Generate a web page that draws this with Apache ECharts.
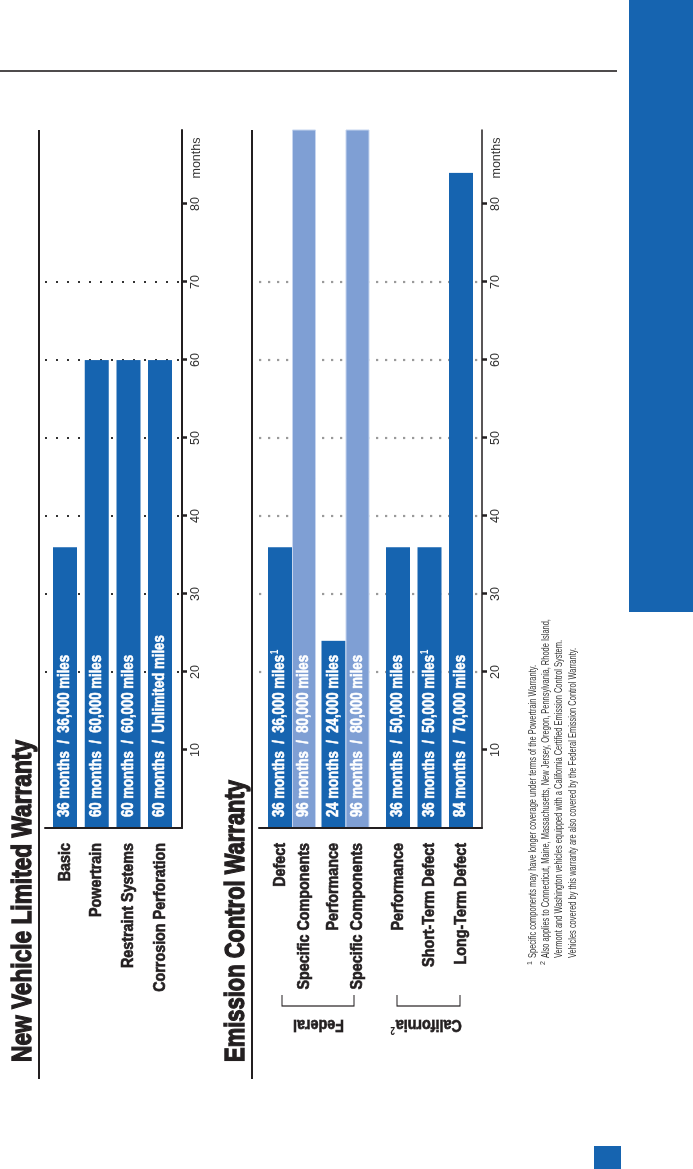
<!DOCTYPE html>
<html><head><meta charset="utf-8">
<script src="https://cdn.jsdelivr.net/npm/echarts@6/dist/echarts.min.js"></script>
<style>
html,body{margin:0;padding:0;background:#fff;overflow:hidden;width:693px;height:1169px}
#chart{position:absolute;left:0;top:0;width:1169px;height:693px;transform-origin:0 0;transform:translateY(1169px) rotate(-90deg);}
</style></head><body><div id="chart"></div>
<script>
// ---------- data ----------
const nvCategories = ['Basic', 'Powertrain', 'Restraint Systems', 'Corrosion Perforation'];
const nvMonths = [36, 60, 60, 60];
const nvLabels = ['36 months / 36,000 miles', '60 months / 60,000 miles', '60 months / 60,000 miles', '60 months / Unlimited miles'];
const nvNotes = ['', '', '', ''];

const fedCategories = ['Defect', 'Specific Components', 'Performance', 'Specific Components'];
const fedMonths = [36, 96, 24, 96];
const fedLabels = ['36 months / 36,000 miles', '96 months / 80,000 miles', '24 months / 24,000 miles', '96 months / 80,000 miles'];
const fedNotes = ['1', '', '', ''];

const calCategories = ['Performance', 'Short-Term Defect', 'Long-Term Defect'];
const calMonths = [36, 36, 84];
const calLabels = ['36 months / 50,000 miles', '36 months / 50,000 miles', '84 months / 70,000 miles'];
const calNotes = ['', '1', ''];

const tickValues = [10, 20, 30, 40, 50, 60, 70, 80];
const axisName = 'months';

const footnotes = [
  ['1', 'Specific components may have longer coverage under terms of the Powertrain Warranty.'],
  ['2', 'Also applies to Connecticut, Maine, Massachusetts, New Jersey, Oregon, Pennsylvania, Rhode Island,'],
  ['', 'Vermont and Washington vehicles equipped with a California Certified Emission Control System.'],
  ['', 'Vehicles covered by this warranty are also covered by the Federal Emission Control Warranty.']
];

// ---------- style ----------
const BLUE = '#1664b0', LIGHT = '#7f9fd4', INK = '#231f20';
const REG = '"Liberation Sans",Arial,Helvetica,sans-serif';
const MAX = 89.5;
const bold = sz => 'bold ' + sz + 'px ' + REG;

function measure(text, font) {
  const c = document.createElement('canvas').getContext('2d');
  c.font = font;
  return c.measureText(text).width;
}
function spaced(s) { return s.replace(' / ', '  /  '); }

const chart = echarts.init(document.getElementById('chart'), null, {renderer: 'canvas'});

function visibleValueAxis(gridIndex, split, lineW) {
  return {
    type: 'value', gridIndex, min: 0, max: MAX, interval: 10, position: 'bottom',
    name: axisName, nameLocation: 'end', nameGap: -28,
    nameTextStyle: {fontFamily: REG, fontSize: 12.5, color: '#333', align: 'center', verticalAlign: 'top', padding: [8, 0, 0, 0]},
    axisLine: {show: true, onZero: false, lineStyle: {color: INK, width: lineW}},
    axisTick: {show: true, length: 5, customValues: tickValues, lineStyle: {color: INK, width: 2.5}},
    axisLabel: {show: true, margin: 7, fontFamily: REG, fontSize: 12.5, color: '#333', customValues: tickValues},
    splitLine: {show: true, showMinLine: false, showMaxLine: false, lineStyle: split},
    z: 0
  };
}
function hiddenValueAxis(gridIndex) {
  return {type: 'value', gridIndex, min: 0, max: MAX, show: false};
}
function baseLineAxis(gridIndex) {
  return {
    type: 'category', gridIndex, data: [''],
    axisLine: {show: true, lineStyle: {color: INK, width: 2}},
    axisTick: {show: false}, axisLabel: {show: false}, splitLine: {show: false}, z: 5
  };
}
function catAxis(gridIndex, data) {
  return {
    type: 'category', gridIndex, data, inverse: true,
    axisLine: {show: false}, axisTick: {show: false}, splitLine: {show: false}, axisLabel: {show: false}
  };
}

// Federal: each group = dark bar + adjoining light bar
const fedIdxDark = [0, 2], fedIdxLight = [1, 3];
const fedGroups = fedIdxDark.map(i => fedCategories[i]);
const pick = (arr, idx) => idx.map(i => arr[i]);

const gridBase = {left: 341, right: 130, outerBoundsMode: 'none', containLabel: false};

const option = {
  animation: false,
  backgroundColor: '#fff',
  grid: [
    Object.assign({top: 45, bottom: 511}, gridBase),
    Object.assign({top: 49.2, bottom: 517.1}, gridBase),
    Object.assign({top: 259, bottom: 211}, gridBase),
    Object.assign({top: 265.25, bottom: 320.75}, gridBase),
    Object.assign({top: 382.25, bottom: 216.25}, gridBase)
  ],
  xAxis: [
    visibleValueAxis(0, {color: '#333', width: 2, type: [2, 9]}, 2),
    hiddenValueAxis(1),
    visibleValueAxis(2, {color: '#9a9a9a', width: 2.2, type: [2.2, 6.8]}, 1.5),
    hiddenValueAxis(3),
    hiddenValueAxis(4)
  ],
  yAxis: [
    baseLineAxis(0),
    catAxis(1, nvCategories),
    baseLineAxis(2),
    catAxis(3, fedGroups),
    catAxis(4, calCategories)
  ],
  series: [
    {type: 'bar', xAxisIndex: 1, yAxisIndex: 1, data: nvMonths, barWidth: 24, itemStyle: {color: BLUE}},
    {type: 'bar', xAxisIndex: 3, yAxisIndex: 3, data: pick(fedMonths, fedIdxDark), barWidth: 24, barGap: '0%', itemStyle: {color: BLUE}},
    {type: 'bar', xAxisIndex: 3, yAxisIndex: 3, data: pick(fedMonths, fedIdxLight), barWidth: 24, barGap: '0%',
      itemStyle: {color: LIGHT, borderColor: '#c6d5ef', borderWidth: 1}},
    {type: 'bar', xAxisIndex: 4, yAxisIndex: 4, data: calMonths, barWidth: 24, itemStyle: {color: BLUE}}
  ]
};
chart.setOption(option);

// ---------- condensed typography (scaled Helvetica-like text) ----------
const kCat = 125 / measure('Restraint Systems', bold(17));
const kBar = 162 / measure(spaced('36 months / 36,000 miles'), bold(16));
const titleFont = bold(27.5);
const t1 = 'New Vehicle Limited Warranty', t2 = 'Emission Control Warranty';
const k1 = 322 / measure(t1, titleFont);
const k2 = 282 / measure(t2, titleFont);
const noteFont = '10.5px ' + REG;
const kn = 293 / measure(footnotes[0][1], noteFont);

const heavy = (fill, w) => ({fill, stroke: fill, lineWidth: w});

const graphic = [
  {type: 'line', shape: {x1: 90, y1: 39, x2: 1039, y2: 39}, style: {stroke: INK, lineWidth: 2.2}},
  {type: 'line', shape: {x1: 90, y1: 252, x2: 1039, y2: 252}, style: {stroke: INK, lineWidth: 2.2}},
  {type: 'line', shape: {x1: 1098, y1: 0, x2: 1098, y2: 617}, style: {stroke: INK, lineWidth: 1.6}},
  {type: 'rect', shape: {x: 557, y: 629, width: 612, height: 64}, style: {fill: BLUE}},
  {type: 'rect', shape: {x: 0, y: 594, width: 23, height: 27}, style: {fill: BLUE}},
  {type: 'text', x: 107, y: 23, scaleX: k1, z: 100, style: Object.assign({text: t1, font: titleFont, verticalAlign: 'middle'}, heavy(INK, 1.3))},
  {type: 'text', x: 107, y: 236, scaleX: k2, z: 100, style: Object.assign({text: t2, font: titleFont, verticalAlign: 'middle'}, heavy(INK, 1.3))},
  {type: 'polyline', shape: {points: [[174, 282], [163, 282], [163, 354], [174, 354]]}, style: {stroke: INK, lineWidth: 1.2, fill: null}},
  {type: 'polyline', shape: {points: [[174, 397], [163, 397], [163, 460], [174, 460]]}, style: {stroke: INK, lineWidth: 1.2, fill: null}},
  {type: 'text', x: 144, y: 318.5, rotation: Math.PI / 2, scaleX: kCat, z: 100,
    style: Object.assign({text: 'Federal', font: bold(17), align: 'center', verticalAlign: 'middle'}, heavy(INK, 0.7))},
  {type: 'text', x: 144, y: 426, rotation: Math.PI / 2, scaleX: kCat, z: 100, style: {
    text: '{a|California}{s|2}', align: 'center', verticalAlign: 'middle',
    rich: {a: Object.assign({font: bold(17)}, heavy(INK, 0.7)), s: {font: bold(10), fill: INK, padding: [0, 0, 9, 1]}}
  }}
];
footnotes.forEach((f, i) => {
  const y = 533 + i * 13.3;
  graphic.push({type: 'text', x: 211, y, scaleX: kn, z: 100, style: {text: f[1], font: noteFont, fill: '#333', verticalAlign: 'middle'}});
  if (f[0]) graphic.push({type: 'text', x: 204, y: y - 3, z: 100, style: {text: f[0], font: '7px ' + REG, fill: '#333', verticalAlign: 'middle'}});
});

// bar labels and category labels placed from the library's own bar layout
const labelSets = [
  [nvCategories, nvLabels, nvNotes],
  [pick(fedCategories, fedIdxDark), pick(fedLabels, fedIdxDark), pick(fedNotes, fedIdxDark)],
  [pick(fedCategories, fedIdxLight), pick(fedLabels, fedIdxLight), pick(fedNotes, fedIdxLight)],
  [calCategories, calLabels, calNotes]
];
const barRichStyle = {
  t: Object.assign({font: bold(16)}, heavy('#fff', 0.6)),
  s: {font: bold(10), fill: '#fff', padding: [0, 0, 9, 1]}
};
labelSets.forEach((set, si) => {
  const data = chart.getModel().getSeriesByIndex(si).getData();
  for (let i = 0; i < data.count(); i++) {
    const L = data.getItemLayout(i);
    const cy = L.y + L.height / 2;
    const base = L.x;
    graphic.push({type: 'text', x: base - 15, y: cy, scaleX: kCat, z: 100,
      style: Object.assign({text: set[0][i], font: bold(17), align: 'right', verticalAlign: 'middle'}, heavy(INK, 0.7))});
    graphic.push({type: 'text', x: base + 11, y: cy, scaleX: kBar, z: 100,
      style: {text: '{t|' + spaced(set[1][i]) + '}' + (set[2][i] ? '{s|' + set[2][i] + '}' : ''),
        rich: barRichStyle, verticalAlign: 'middle'}});
  }
});
chart.setOption({graphic});
</script></body></html>
